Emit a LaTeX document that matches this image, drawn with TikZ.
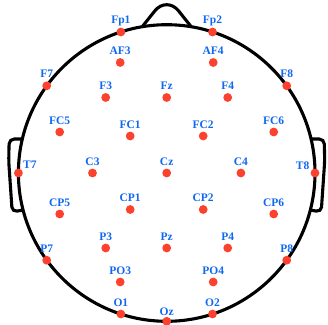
\documentclass[tikz,border=0pt]{standalone}
\usepackage{fontspec}
\setmainfont{Liberation Serif}
\usepackage{tikz}
\usetikzlibrary{calc}
\definecolor{eegBlue}{RGB}{16,104,240}
\definecolor{eegRed}{RGB}{250,66,46}

\begin{document}
\begin{tikzpicture}[x=1pt,y=1pt,
  head/.style={black, line width=3.1pt},
  elec/.style={circle, fill=eegRed, inner sep=0pt, minimum size=8.8pt},
  lab/.style={text=eegBlue, font=\bfseries\fontsize{11.5}{11.5}\selectfont, anchor=base, inner sep=0pt}]
\useasboundingbox (-166.7,-151) rectangle (161.3,173);
% head outline, ears, nose
\draw[head] (0,0) circle[radius=148.3];
\draw[head, rounded corners=5] (-144.4,34) -- (-157.5,34) -- (-158,12) -- (-154.5,-39) -- (-143.6,-37);
\draw[head, rounded corners=5] (144.4,34) -- (157.5,34) -- (158,12) -- (154.5,-39) -- (143.6,-37);
\draw[head, rounded corners=19] (-24.5,146.3) -- (0,177) -- (24.5,146.3);
% electrodes
\node[elec] (Fp1) at (-45.8,141) {};   \node[lab] (Fp1-t) at ($(Fp1)+(0,8)$) {Fp1};
\node[elec] (Fp2) at (45.8,141) {};    \node[lab] (Fp2-t) at ($(Fp2)+(0,8)$) {Fp2};
\node[elec] (AF3) at (-46.5,110.5) {}; \node[lab] (AF3-t) at ($(AF3)+(0,8)$) {AF3};
\node[elec] (AF4) at (46.5,110.5) {};  \node[lab] (AF4-t) at ($(AF4)+(0,8)$) {AF4};
\node[elec] (F7) at (-120,87.2) {};    \node[lab] (F7-t) at ($(F7)+(0,8)$) {F7};
\node[elec] (F3) at (-61,75.5) {};     \node[lab] (F3-t) at ($(F3)+(0,8)$) {F3};
\node[elec] (Fz) at (0,75.5) {};       \node[lab] (Fz-t) at ($(Fz)+(0,8)$) {Fz};
\node[elec] (F4) at (61,75.5) {};      \node[lab] (F4-t) at ($(F4)+(0,8)$) {F4};
\node[elec] (F8) at (120,87.2) {};     \node[lab] (F8-t) at ($(F8)+(0,8)$) {F8};
\node[elec] (FC5) at (-107,41) {};     \node[lab] (FC5-t) at ($(FC5)+(0,8)$) {FC5};
\node[elec] (FC1) at (-36.5,37) {};    \node[lab] (FC1-t) at ($(FC1)+(0,8)$) {FC1};
\node[elec] (FC2) at (36.5,37) {};     \node[lab] (FC2-t) at ($(FC2)+(0,8)$) {FC2};
\node[elec] (FC6) at (107,41) {};      \node[lab] (FC6-t) at ($(FC6)+(0,8)$) {FC6};
\node[elec] (T7) at (-148.3,0) {};     \node[lab, anchor=base west] (T7-t) at ($(T7)+(4.5,4.5)$) {T7};
\node[elec] (C3) at (-74.2,0) {};      \node[lab] (C3-t) at ($(C3)+(0,8)$) {C3};
\node[elec] (Cz) at (0,0) {};          \node[lab] (Cz-t) at ($(Cz)+(0,8)$) {Cz};
\node[elec] (C4) at (74.2,0) {};       \node[lab] (C4-t) at ($(C4)+(0,8)$) {C4};
\node[elec] (T8) at (148.3,0) {};      \node[lab, anchor=base east] (T8-t) at ($(T8)+(-5.5,3.5)$) {T8};
\node[elec] (CP5) at (-107,-41) {};    \node[lab] (CP5-t) at ($(CP5)+(0,8)$) {CP5};
\node[elec] (CP1) at (-36.5,-36.5) {}; \node[lab] (CP1-t) at ($(CP1)+(0,8)$) {CP1};
\node[elec] (CP2) at (36.5,-36.5) {};  \node[lab] (CP2-t) at ($(CP2)+(0,8)$) {CP2};
\node[elec] (CP6) at (107,-41) {};     \node[lab] (CP6-t) at ($(CP6)+(0,8)$) {CP6};
\node[elec] (P7) at (-120,-87.2) {};   \node[lab] (P7-t) at ($(P7)+(0,8)$) {P7};
\node[elec] (P3) at (-61,-75) {};      \node[lab] (P3-t) at ($(P3)+(0,8)$) {P3};
\node[elec] (Pz) at (0,-75) {};        \node[lab] (Pz-t) at ($(Pz)+(0,8)$) {Pz};
\node[elec] (P4) at (61,-75) {};       \node[lab] (P4-t) at ($(P4)+(0,8)$) {P4};
\node[elec] (P8) at (120,-87.2) {};    \node[lab] (P8-t) at ($(P8)+(0,8)$) {P8};
\node[elec] (PO3) at (-46.5,-109) {};  \node[lab] (PO3-t) at ($(PO3)+(0,8)$) {PO3};
\node[elec] (PO4) at (46.5,-109) {};   \node[lab] (PO4-t) at ($(PO4)+(0,8)$) {PO4};
\node[elec] (O1) at (-45.8,-141) {};   \node[lab] (O1-t) at ($(O1)+(0,8)$) {O1};
\node[elec] (Oz) at (0,-148.3) {};     \node[lab] (Oz-t) at ($(Oz)+(0,6)$) {Oz};
\node[elec] (O2) at (45.8,-141) {};    \node[lab] (O2-t) at ($(O2)+(0,8)$) {O2};
\end{tikzpicture}
\end{document}
